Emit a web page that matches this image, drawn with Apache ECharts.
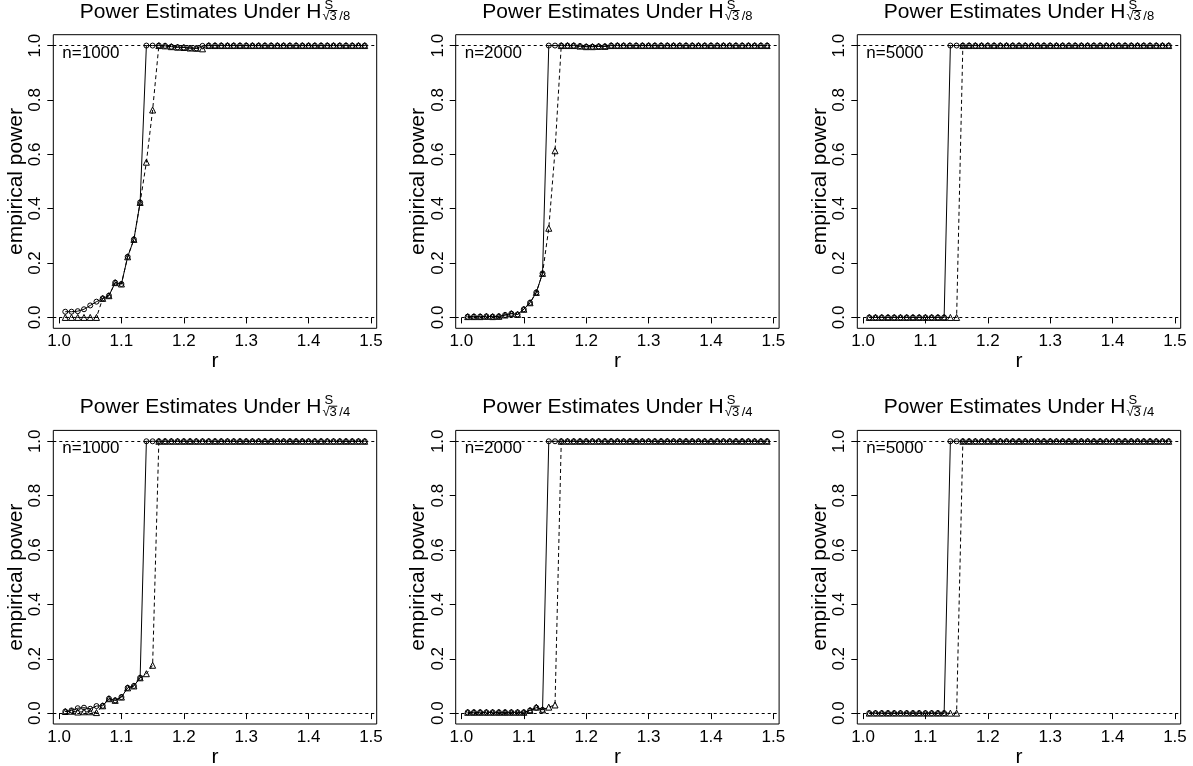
<!DOCTYPE html>
<html><head><meta charset="utf-8">
<script src="https://cdn.jsdelivr.net/npm/echarts@6/dist/echarts.min.js"></script>
<style>html,body{margin:0;padding:0;background:#fff}#c{width:1193px;height:766px}</style>
</head><body><div id="c"></div>
<script>
// ---------------- data ----------------
const r = [1.01,1.02,1.03,1.04,1.05,1.06,1.07,1.08,1.09,1.10,
           1.11,1.12,1.13,1.14,1.15,1.16,1.17,1.18,1.19,1.20,
           1.21,1.22,1.23,1.24,1.25,1.26,1.27,1.28,1.29,1.30,
           1.31,1.32,1.33,1.34,1.35,1.36,1.37,1.38,1.39,1.40,
           1.41,1.42,1.43,1.44,1.45,1.46,1.47,1.48,1.49];
const xTicks = [1.0,1.1,1.2,1.3,1.4,1.5];
const yTicks = [0.0,0.2,0.4,0.6,0.8,1.0];
const sampleLabels = ['n=1000','n=2000','n=5000'];
const titleMain = 'Power Estimates Under H';
const titleSup = 'S';
const titleSubs = ['\u221A3\u2009/8','\u221A3\u2009/4'];
const xName = 'r';
const yName = 'empirical power';

// row 1 : H^S_{sqrt3/8}
const circ8_1000 = [0.021,0.021,0.023,0.030,0.044,0.058,0.070,0.080,0.128,0.123,
                    0.223,0.287,0.423,1,1,1,0.999,0.996,0.994,0.993,
                    0.991,0.990,0.999,1,1,1,1,1,1,1,
                    1,1,1,1,1,1,1,1,1,1,
                    1,1,1,1,1,1,1,1,1];
const tri8_1000  = [0,0,0,0,0,0,0.070,0.080,0.128,0.123,
                    0.223,0.287,0.423,0.571,0.763,1,0.999,0.996,0.994,0.993,
                    0.991,0.990,0.988,1,1,1,1,1,1,1,
                    1,1,1,1,1,1,1,1,1,1,
                    1,1,1,1,1,1,1,1,1];
const circ8_2000 = [0.003,0.003,0.003,0.004,0.003,0.004,0.009,0.014,0.011,0.030,
                    0.054,0.092,0.162,1,1,1,1,1,0.998,0.996,
                    0.996,0.997,0.997,1,1,1,1,1,1,1,
                    1,1,1,1,1,1,1,1,1,1,
                    1,1,1,1,1,1,1,1,1];
const tri8_2000  = [0.003,0.003,0.003,0.004,0.003,0.004,0.009,0.014,0.011,0.030,
                    0.054,0.092,0.162,0.328,0.613,1,1,1,0.998,0.996,
                    0.996,0.997,0.997,1,1,1,1,1,1,1,
                    1,1,1,1,1,1,1,1,1,1,
                    1,1,1,1,1,1,1,1,1];
const circ8_5000 = [0,0,0,0,0,0,0,0,0,0,
                    0,0,0,1,1,1,1,1,1,1,
                    1,1,1,1,1,1,1,1,1,1,
                    1,1,1,1,1,1,1,1,1,1,
                    1,1,1,1,1,1,1,1,1];
const tri8_5000  = [0,0,0,0,0,0,0,0,0,0,
                    0,0,0,0,0,1,1,1,1,1,
                    1,1,1,1,1,1,1,1,1,1,
                    1,1,1,1,1,1,1,1,1,1,
                    1,1,1,1,1,1,1,1,1];
// row 2 : H^S_{sqrt3/4}
const circ4_1000 = [0.006,0.010,0.018,0.020,0.016,0.026,0.027,0.053,0.047,0.059,
                    0.093,0.100,0.130,1,1,1,1,1,1,1,
                    1,1,1,1,1,1,1,1,1,1,
                    1,1,1,1,1,1,1,1,1,1,
                    1,1,1,1,1,1,1,1,1];
const tri4_1000  = [0.006,0.007,0.004,0.005,0.005,0.002,0.027,0.053,0.047,0.059,
                    0.093,0.100,0.130,0.145,0.176,1,1,1,1,1,
                    1,1,1,1,1,1,1,1,1,1,
                    1,1,1,1,1,1,1,1,1,1,
                    1,1,1,1,1,1,1,1,1];
const circ4_2000 = [0.003,0.003,0.003,0.003,0.003,0.003,0.003,0.003,0.003,0.003,
                    0.010,0.020,0.012,1,1,1,1,1,1,1,
                    1,1,1,1,1,1,1,1,1,1,
                    1,1,1,1,1,1,1,1,1,1,
                    1,1,1,1,1,1,1,1,1];
const tri4_2000  = [0.003,0.003,0.003,0.003,0.003,0.003,0.003,0.003,0.003,0.003,
                    0.010,0.022,0.012,0.022,0.030,1,1,1,1,1,
                    1,1,1,1,1,1,1,1,1,1,
                    1,1,1,1,1,1,1,1,1,1,
                    1,1,1,1,1,1,1,1,1];
const circ4_5000 = [0,0,0,0,0,0,0,0,0,0,
                    0,0,0,1,1,1,1,1,1,1,
                    1,1,1,1,1,1,1,1,1,1,
                    1,1,1,1,1,1,1,1,1,1,
                    1,1,1,1,1,1,1,1,1];
const tri4_5000  = [0,0,0,0,0,0,0,0,0,0,
                    0,0,0,0,0,1,1,1,1,1,
                    1,1,1,1,1,1,1,1,1,1,
                    1,1,1,1,1,1,1,1,1,1,
                    1,1,1,1,1,1,1,1,1];

const panels = [
  [ [circ8_1000, tri8_1000], [circ8_2000, tri8_2000], [circ8_5000, tri8_5000] ],
  [ [circ4_1000, tri4_1000], [circ4_2000, tri4_2000], [circ4_5000, tri4_5000] ]
];

// ---------------- layout ----------------
const FONT = '"Liberation Sans", Arial, Helvetica, sans-serif';
const lefts = [53.3, 455.7, 857.3];
const boxW = 323.4;
const tops = [34.7, 430.4];
const boxH = 293.6;
const xMin = 0.9908, xMax = 1.5092;
const yMin = -0.04, yMax = 1.04;
const TITLE_FS = 21, SCRIPT_FS = 13, LAB_FS = 21, TICK_FS = 17, NOTE_FS = 17;

const chart = echarts.init(document.getElementById('c'), null, {renderer: 'canvas'});
const ctx = document.createElement('canvas').getContext('2d');
function tw(text, size){ ctx.font = size + 'px ' + FONT; return ctx.measureText(text).width; }

const grid = [], xAxis = [], yAxis = [], series = [], graphic = [];
let gi = 0;
for (let row = 0; row < 2; row++) {
  for (let col = 0; col < 3; col++) {
    grid.push({left: lefts[col], top: tops[row], width: boxW, height: boxH,
      show: true, borderColor: '#000', borderWidth: 1, backgroundColor: 'transparent',
      containLabel: false, outerBoundsMode: 'none'});
    xAxis.push({type: 'value', gridIndex: gi, min: xMin, max: xMax,
      name: xName, nameLocation: 'middle', nameGap: 19,
      nameTextStyle: {fontFamily: FONT, fontSize: LAB_FS, color: '#000'},
      axisLine: {show: false}, splitLine: {show: false},
      axisTick: {show: true, inside: false, length: 6, customValues: xTicks, lineStyle: {color: '#000', width: 1}},
      axisLabel: {show: true, margin: 4.5, customValues: xTicks, fontFamily: FONT, fontSize: TICK_FS, color: '#000',
        formatter: v => v.toFixed(1)}
    });
    yAxis.push({type: 'value', gridIndex: gi, min: yMin, max: yMax,
      name: yName, nameLocation: 'middle', nameGap: 25, nameRotate: 90,
      nameTextStyle: {fontFamily: FONT, fontSize: LAB_FS, color: '#000'},
      axisLine: {show: false}, splitLine: {show: false},
      axisTick: {show: true, inside: false, length: 6, customValues: yTicks, lineStyle: {color: '#000', width: 1}},
      axisLabel: {show: true, margin: 9, rotate: 90, customValues: yTicks, fontFamily: FONT, fontSize: TICK_FS, color: '#000',
        formatter: v => v.toFixed(1)}
    });
    const [circ, tri] = panels[row][col];
    series.push({type: 'line', xAxisIndex: gi, yAxisIndex: gi,
      data: r.map((x, i) => [x, circ[i]]),
      symbol: 'circle', symbolSize: 5, showSymbol: true, showAllSymbol: true,
      lineStyle: {color: '#000', width: 1, type: 'solid'},
      itemStyle: {color: 'rgba(0,0,0,0)', borderColor: '#000', borderWidth: 1},
      emphasis: {disabled: true}, silent: true, z: 3,
      markLine: {silent: true, symbol: ['none','none'], label: {show: false},
        lineStyle: {color: '#000', width: 1, type: [3,3]},
        emphasis: {disabled: true},
        data: [{yAxis: 0}, {yAxis: 1}]}
    });
    series.push({type: 'line', xAxisIndex: gi, yAxisIndex: gi,
      data: r.map((x, i) => [x, tri[i]]),
      symbol: 'triangle', symbolSize: 6, showSymbol: true, showAllSymbol: true,
      lineStyle: {color: '#000', width: 1, type: [4,3]},
      itemStyle: {color: 'rgba(0,0,0,0)', borderColor: '#000', borderWidth: 1},
      emphasis: {disabled: true}, silent: true, z: 4
    });

    // title with super/subscript
    const cx = lefts[col] + boxW / 2;
    const dy = tops[row] - tops[0];
    const wMain = tw(titleMain, TITLE_FS), wSub = tw(titleSubs[row], SCRIPT_FS);
    const x0 = cx - (wMain + 1 + wSub) / 2;
    const xs = x0 + wMain + 1;
    graphic.push({type: 'text', silent: true, style: {text: titleMain, x: x0, y: 19 - 0.3465 * TITLE_FS + dy,
      font: TITLE_FS + 'px ' + FONT, fill: '#000', align: 'left', verticalAlign: 'middle', textAlign: 'left', textVerticalAlign: 'middle'}});
    graphic.push({type: 'text', silent: true, style: {text: titleSup, x: xs + 2, y: 9.5 - 0.3465 * SCRIPT_FS + dy,
      font: SCRIPT_FS + 'px ' + FONT, fill: '#000', align: 'left', verticalAlign: 'middle', textAlign: 'left', textVerticalAlign: 'middle'}});
    graphic.push({type: 'text', silent: true, style: {text: titleSubs[row], x: xs, y: 20.8 - 0.3465 * SCRIPT_FS + dy,
      font: SCRIPT_FS + 'px ' + FONT, fill: '#000', align: 'left', verticalAlign: 'middle', textAlign: 'left', textVerticalAlign: 'middle'}});
    const wr = tw('\u221A', SCRIPT_FS), wr3 = tw('\u221A3', SCRIPT_FS);
    graphic.push({type: 'line', silent: true, shape: {x1: xs + wr - 0.5, y1: 10.5 + dy, x2: xs + wr3 + 0.5, y2: 10.5 + dy},
      style: {stroke: '#000', lineWidth: 1}});
    // sample size label
    graphic.push({type: 'text', silent: true, style: {text: sampleLabels[col], x: lefts[col] + 9, y: 59 - 0.3465 * NOTE_FS + dy,
      font: NOTE_FS + 'px ' + FONT, fill: '#000', align: 'left', verticalAlign: 'middle', textAlign: 'left', textVerticalAlign: 'middle'}});
    gi++;
  }
}

chart.setOption({animation: false, backgroundColor: '#fff', grid, xAxis, yAxis, series, graphic});
</script></body></html>
